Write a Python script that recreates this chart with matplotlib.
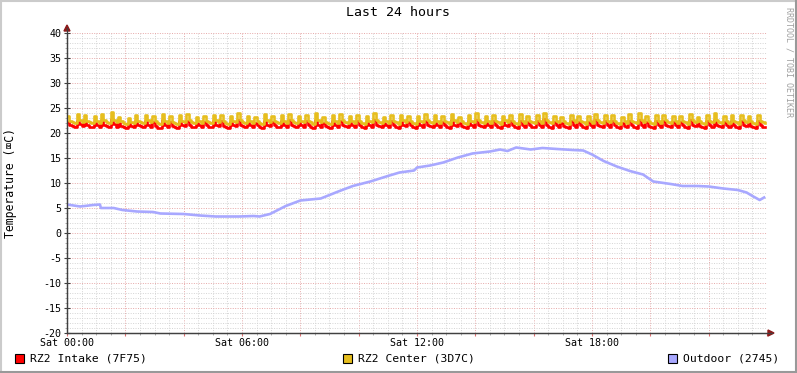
import numpy as np
import matplotlib.pyplot as plt
from matplotlib.lines import Line2D
from matplotlib.patches import Rectangle, Polygon
from matplotlib.ticker import MultipleLocator, FuncFormatter

plt.rcParams['font.family'] = ['DejaVu Sans Mono', 'DejaVu Sans']

# 5-minute samples, Sat 00:00 .. 23:55
center = [
    23.4, 22.5, 22.2, 22.0, 23.8, 22.6, 22.2,
    23.6, 22.5, 22.2, 22.0, 23.5, 22.4, 22.1,
    23.9, 22.6, 22.3, 22.1, 24.3, 22.7, 22.3,
    23.3, 22.4, 22.1, 21.9, 23.1, 22.3, 22.0,
    23.7, 22.5, 22.2, 22.0, 23.6, 22.6, 22.2,
    23.5, 22.4, 22.1, 21.8, 23.9, 22.5, 22.1,
    23.4, 22.3, 22.0, 21.9, 23.6, 22.5, 22.2,
    23.8, 22.6, 22.2, 22.0, 23.3, 22.4, 22.1,
    23.5, 22.5, 22.2, 22.0, 23.7, 22.6, 22.3,
    23.6, 22.4, 22.1, 21.9, 23.4, 22.5, 22.2,
    24.0, 22.6, 22.3, 22.0, 23.5, 22.4, 22.1,
    23.3, 22.4, 22.1, 21.9, 23.8, 22.6, 22.2,
    23.5, 22.5, 22.2, 22.0, 23.6, 22.4, 22.1,
    23.9, 22.6, 22.3, 22.1, 23.4, 22.5, 22.2,
    23.6, 22.5, 22.2, 21.9, 24.1, 22.6, 22.2,
    23.2, 22.3, 22.1, 21.8, 23.6, 22.5, 22.1,
    23.8, 22.6, 22.2, 22.0, 23.5, 22.4, 22.1,
    23.7, 22.4, 22.1, 21.9, 23.4, 22.5, 22.2,
    24.0, 22.6, 22.3, 22.0, 23.3, 22.4, 22.1,
    23.6, 22.5, 22.2, 21.9, 23.7, 22.6, 22.3,
    23.4, 22.4, 22.1, 21.9, 23.5, 22.5, 22.2,
    23.8, 22.6, 22.2, 22.0, 23.6, 22.4, 22.1,
    23.5, 22.5, 22.2, 21.9, 23.9, 22.6, 22.2,
    23.3, 22.4, 22.1, 21.8, 23.6, 22.5, 22.2,
    24.0, 22.6, 22.3, 22.0, 23.4, 22.4, 22.1,
    23.7, 22.5, 22.2, 21.9, 23.5, 22.6, 22.2,
    23.6, 22.4, 22.1, 21.9, 23.8, 22.5, 22.1,
    23.4, 22.5, 22.2, 22.0, 23.6, 22.4, 22.1,
    24.1, 22.6, 22.3, 22.0, 23.5, 22.5, 22.2,
    23.3, 22.4, 22.1, 21.9, 23.7, 22.6, 22.2,
    23.5, 22.5, 22.2, 21.9, 23.4, 22.4, 22.1,
    23.9, 22.6, 22.2, 22.0, 23.6, 22.5, 22.2,
    23.6, 22.4, 22.1, 21.9, 23.3, 22.4, 22.1,
    23.8, 22.5, 22.2, 22.0, 24.0, 22.6, 22.3,
    23.4, 22.4, 22.1, 21.9, 23.6, 22.5, 22.1,
    23.7, 22.6, 22.2, 22.0, 23.5, 22.4, 22.1,
    23.5, 22.5, 22.2, 21.9, 23.9, 22.6, 22.2,
    23.3, 22.4, 22.1, 21.9, 23.6, 22.5, 22.2,
    24.0, 22.6, 22.3, 22.0, 23.4, 22.4, 22.1,
    23.6, 22.5, 22.2, 21.9, 23.7, 22.6, 22.2,
    23.5, 22.4, 22.1, 21.9, 23.6, 22.5, 22.2,
    22.0,
]

intake = [
    22.2, 21.7, 21.4, 21.3, 22.5, 21.8, 21.4,
    22.4, 21.6, 21.3, 21.2, 22.3, 21.6, 21.3,
    22.6, 21.7, 21.4, 21.2, 22.8, 21.8, 21.3,
    22.1, 21.5, 21.2, 21.0, 22.0, 21.5, 21.2,
    22.5, 21.7, 21.4, 21.2, 22.4, 21.7, 21.3,
    22.3, 21.5, 21.1, 21.0, 22.6, 21.6, 21.2,
    22.2, 21.5, 21.2, 21.1, 22.4, 21.7, 21.4,
    22.5, 21.7, 21.3, 21.2, 22.1, 21.6, 21.3,
    22.3, 21.6, 21.3, 21.2, 22.5, 21.7, 21.4,
    22.4, 21.5, 21.2, 21.1, 22.2, 21.7, 21.4,
    22.7, 21.7, 21.4, 21.2, 22.3, 21.6, 21.3,
    22.1, 21.6, 21.3, 21.1, 22.5, 21.7, 21.4,
    22.3, 21.6, 21.3, 21.2, 22.4, 21.6, 21.3,
    22.6, 21.7, 21.4, 21.2, 22.2, 21.6, 21.3,
    22.4, 21.6, 21.3, 21.1, 22.7, 21.7, 21.3,
    22.0, 21.5, 21.2, 21.0, 22.4, 21.6, 21.3,
    22.5, 21.7, 21.4, 21.2, 22.3, 21.6, 21.3,
    22.4, 21.6, 21.3, 21.1, 22.2, 21.6, 21.3,
    22.7, 21.7, 21.4, 21.2, 22.1, 21.6, 21.3,
    22.4, 21.6, 21.3, 21.1, 22.5, 21.7, 21.4,
    22.2, 21.6, 21.3, 21.1, 22.3, 21.6, 21.3,
    22.5, 21.7, 21.4, 21.2, 22.4, 21.6, 21.3,
    22.3, 21.6, 21.3, 21.1, 22.6, 21.7, 21.4,
    22.1, 21.5, 21.3, 21.1, 22.4, 21.6, 21.3,
    22.7, 21.7, 21.4, 21.2, 22.2, 21.6, 21.3,
    22.5, 21.6, 21.3, 21.1, 22.3, 21.7, 21.4,
    22.4, 21.6, 21.3, 21.1, 22.5, 21.6, 21.3,
    22.2, 21.6, 21.3, 21.2, 22.4, 21.6, 21.3,
    22.8, 21.6, 21.2, 21.0, 22.3, 21.6, 21.3,
    22.1, 21.5, 21.2, 21.1, 22.5, 21.7, 21.3,
    22.3, 21.6, 21.3, 21.1, 22.2, 21.6, 21.3,
    22.6, 21.7, 21.4, 21.2, 22.4, 21.6, 21.3,
    22.4, 21.6, 21.2, 21.1, 22.1, 21.5, 21.2,
    22.5, 21.6, 21.3, 21.1, 22.7, 21.7, 21.3,
    22.2, 21.5, 21.2, 21.0, 22.4, 21.6, 21.3,
    22.4, 21.7, 21.4, 21.2, 22.3, 21.6, 21.3,
    22.3, 21.6, 21.3, 21.1, 22.6, 21.7, 21.4,
    22.1, 21.5, 21.2, 21.0, 22.4, 21.6, 21.3,
    22.7, 21.7, 21.4, 21.2, 22.2, 21.6, 21.3,
    22.4, 21.6, 21.3, 21.1, 22.5, 21.7, 21.4,
    22.3, 21.5, 21.2, 21.1, 22.4, 21.6, 21.3,
    21.3,
]

outdoor_h = [0.0, 0.45, 0.9, 1.13, 1.16, 1.6, 1.9, 2.4, 2.95, 3.2, 4.0, 4.56,
             5.1, 5.9, 6.4, 6.6, 6.96, 7.5, 8.0, 8.7, 9.3, 9.8, 10.4, 11.0,
             11.4, 11.9, 12.0, 12.45, 12.9, 13.4, 13.9, 14.5, 14.85, 15.1,
             15.4, 15.9, 16.3, 16.8, 17.35, 17.7, 18.0, 18.4, 18.85, 19.3,
             19.75, 20.1, 20.7, 21.1, 21.6, 22.0, 22.5, 23.0, 23.3, 23.5,
             23.75, 23.9]
outdoor = [5.7, 5.3, 5.6, 5.7, 5.0, 5.0, 4.6, 4.3, 4.2, 3.9, 3.8, 3.5,
           3.3, 3.3, 3.4, 3.3, 3.8, 5.4, 6.5, 6.9, 8.3, 9.4, 10.3, 11.4,
           12.1, 12.5, 13.1, 13.5, 14.1, 15.1, 15.9, 16.3, 16.7, 16.4,
           17.1, 16.7, 17.0, 16.8, 16.6, 16.5, 15.7, 14.4, 13.3, 12.4,
           11.7, 10.3, 9.8, 9.4, 9.4, 9.3, 8.9, 8.6, 8.1, 7.4,
           6.6, 7.1]

labels = ['RZ2 Intake (7F75)', 'RZ2 Center (3D7C)', 'Outdoor (2745)']
colors = ['#FF0000', '#E6BE1E', '#A8A8FF']

W, H = 797, 373
fig = plt.figure(figsize=(W / 100, H / 100), dpi=100)
fig.patch.set_facecolor('white')


def fx(px):
    return px / W


def fy(py):
    return 1 - py / H


ax = fig.add_axes([fx(67), fy(333), 700 / W, 300 / H])
ax.set_facecolor('white')
ax.set_xlim(0, 24)
ax.set_ylim(-20, 40)

t5 = np.arange(len(center)) * 5 / 60
lw = 1.9
ax.plot(t5, intake, color=colors[0], lw=lw, drawstyle='steps-post', zorder=3)
ax.plot(t5, center, color=colors[1], lw=lw, drawstyle='steps-post', zorder=4)
ax.plot(outdoor_h, outdoor, color=colors[2], lw=lw, zorder=5)

ax.xaxis.set_major_locator(MultipleLocator(2))
ax.xaxis.set_minor_locator(MultipleLocator(0.5))
ax.yaxis.set_major_locator(MultipleLocator(5))
ax.yaxis.set_minor_locator(MultipleLocator(1))
ax.xaxis.set_major_formatter(FuncFormatter(
    lambda v, p: 'Sat %02d:00' % v if int(round(v)) % 6 == 0 and v < 24 else ''))
ax.yaxis.set_major_formatter(FuncFormatter(lambda v, p: '%d' % v))

ax.grid(which='minor', color='#D4D4D4', lw=0.7, ls=(0, (1, 1.5)), zorder=1)
ax.grid(which='major', color='#E6A8A8', lw=0.7, ls=(0, (1, 1.5)), zorder=1)

for s in ['top', 'right']:
    ax.spines[s].set_visible(False)
ax.spines['left'].set_color('#404040')
ax.spines['bottom'].set_color('#404040')
ax.spines['left'].set_linewidth(0.9)
ax.spines['bottom'].set_linewidth(0.9)

ax.tick_params(axis='x', which='major', direction='out', length=2.5,
               color='#E07070', labelsize=7.2, pad=1)
ax.tick_params(axis='x', which='minor', direction='out', length=1.5,
               color='#A0A0A0')
ax.tick_params(axis='y', which='major', direction='inout', length=4,
               color='#404040', labelsize=7.2, pad=2)
ax.tick_params(axis='y', which='minor', direction='out', length=1.5,
               color='#A0A0A0')

# axis extensions and arrows
fig.add_artist(Line2D([fx(67), fx(67)], [fy(333), fy(28)], color='#404040', lw=0.9))
fig.add_artist(Line2D([fx(67), fx(772)], [fy(333), fy(333)], color='#404040', lw=0.9))
fig.add_artist(Polygon([[fx(64), fy(31)], [fx(70), fy(31)], [fx(67), fy(25)]],
                       closed=True, color='#8B1A1A'))
fig.add_artist(Polygon([[fx(768), fy(330)], [fx(768), fy(336)], [fx(774), fy(333)]],
                       closed=True, color='#8B1A1A'))

fig.text(fx(398), fy(13), 'Last 24 hours', ha='center', va='center', fontsize=9.5)
fig.text(fx(11), fy(183), 'Temperature (\u2327C)', rotation=90, ha='center',
         va='center', fontsize=8.3)
fig.text(fx(789), fy(7), 'RRDTOOL / TOBI OETIKER', rotation=-90, ha='center',
         va='top', color='#A0A0A0', fontsize=6)

# legend
box_x = [15, 343, 668]
for bx, lab, c in zip(box_x, labels, colors):
    fig.add_artist(Rectangle((fx(bx), fy(363)), 9 / W, 9 / H, facecolor=c,
                             edgecolor='black', lw=0.8))
    fig.text(fx(bx + 15), fy(358.5), lab, ha='left', va='center', fontsize=8.2)

# frame
fig.add_artist(Line2D([fx(1), fx(1)], [0, 1], color='#CBCBCB', lw=1.5))
fig.add_artist(Line2D([0, 1], [fy(1), fy(1)], color='#CBCBCB', lw=1.5))
fig.add_artist(Line2D([fx(796), fx(796)], [0, 1], color='#999999', lw=1.5))
fig.add_artist(Line2D([0, 1], [fy(372), fy(372)], color='#999999', lw=1.5))

fig.savefig('out.png', dpi=100)
